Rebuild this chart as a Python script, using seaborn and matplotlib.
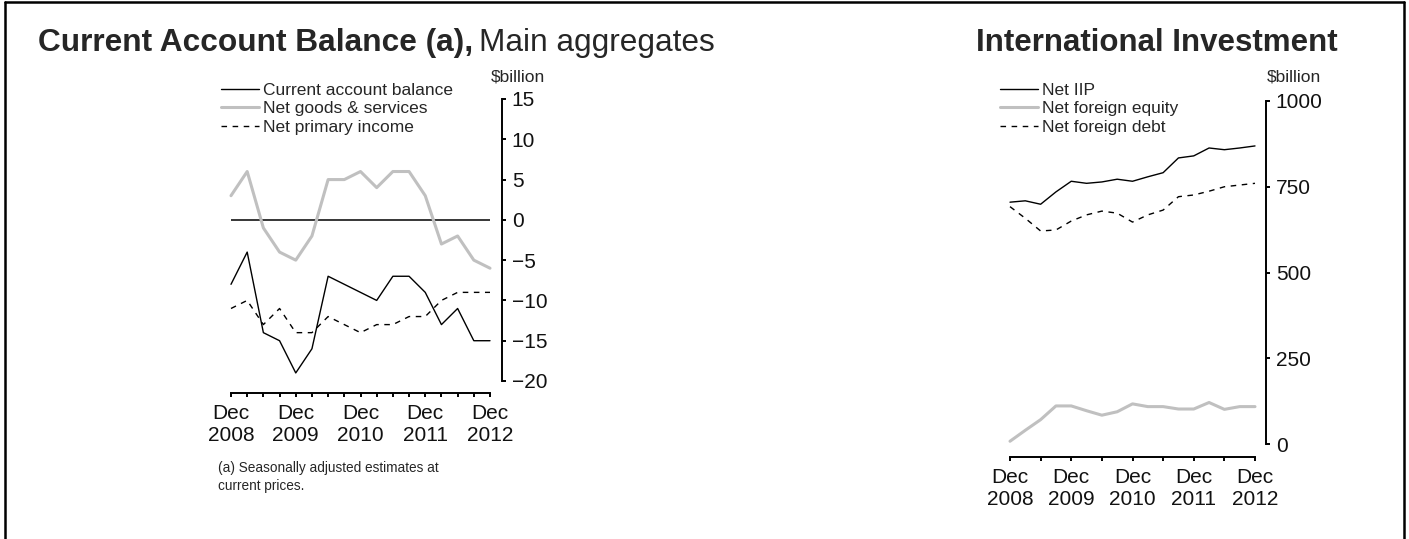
import matplotlib
matplotlib.use("Agg")
import matplotlib.pyplot as plt
import seaborn as sns
import pandas as pd
from matplotlib.lines import Line2D

# ---------------- data ----------------
quarters = ["Dec 2008", "Mar 2009", "Jun 2009", "Sep 2009", "Dec 2009", "Mar 2010",
            "Jun 2010", "Sep 2010", "Dec 2010", "Mar 2011", "Jun 2011", "Sep 2011",
            "Dec 2011", "Mar 2012", "Jun 2012", "Sep 2012", "Dec 2012"]

current_account = [-8, -4, -14, -15, -19, -16, -7, -8, -9, -10, -7, -7, -9, -13, -11, -15, -15]
net_goods_services = [3, 6, -1, -4, -5, -2, 5, 5, 6, 4, 6, 6, 3, -3, -2, -5, -6]
net_primary_income = [-11, -10, -13, -11, -14, -14, -12, -13, -14, -13, -13, -12, -12, -10, -9, -9, -9]

net_iip = [705, 709, 699, 735, 766, 760, 764, 772, 766, 779, 791, 834, 840, 863, 858, 863, 869]
net_foreign_equity = [8, 40, 71, 111, 111, 97, 84, 94, 117, 109, 109, 102, 102, 121, 101, 109, 109]
net_foreign_debt = [692, 658, 621, 624, 650, 668, 679, 673, 647, 668, 682, 721, 726, 737, 750, 755, 760]

left_yticks = [15, 10, 5, 0, -5, -10, -15, -20]
right_yticks = [0, 250, 500, 750, 1000]

# ---------------- style ----------------
sns.set_style("white")
plt.rcParams['font.family'] = ['Liberation Sans', 'DejaVu Sans']

W, H = 1409, 539
fig = plt.figure(figsize=(W / 100, H / 100), dpi=100)

BLACK = "#000000"
GREY = "#c0c0c0"
DASH = (0, (4, 4))

df = pd.DataFrame({
    "q": range(len(quarters)),
    "cab": current_account,
    "goods": net_goods_services,
    "prim": net_primary_income,
    "iip": net_iip,
    "equity": net_foreign_equity,
    "debt": net_foreign_debt,
})

def px_axes(x0, x1, ytop, ybot):
    return fig.add_axes([x0 / W, 1 - ybot / H, (x1 - x0) / W, (ybot - ytop) / H])

def style_axes(ax, right_off_px, bottom_off_px):
    for s in ["left", "top"]:
        ax.spines[s].set_visible(False)
    for s in ["right", "bottom"]:
        ax.spines[s].set_visible(True)
        ax.spines[s].set_linewidth(1.4)
        ax.spines[s].set_color(BLACK)
    ax.spines["right"].set_position(("outward", right_off_px * 0.72))
    ax.spines["bottom"].set_position(("outward", bottom_off_px * 0.72))
    ax.yaxis.tick_right()
    ax.yaxis.set_label_position("right")
    ax.tick_params(axis="both", direction="out", length=3, width=1.4, colors=BLACK,
                   labelsize=15, labelcolor="#111111",
                   bottom=True, top=False, left=False, right=True)
    ax.tick_params(axis="y", pad=4)
    ax.tick_params(axis="x", pad=5)
    ax.set_xlabel("")
    ax.set_ylabel("")
    ax.patch.set_alpha(0)
    ax.grid(False)

LEG = dict(loc="upper left", bbox_transform=fig.transFigure, frameon=False, borderpad=0,
           borderaxespad=0, handlelength=2.2, handletextpad=0.2, labelspacing=0.18,
           fontsize=12.5)

# ---------------- left chart ----------------
ax1 = px_axes(231, 490, 99, 381)
ax1.axhline(0, color=BLACK, lw=1.1, zorder=1)
sns.lineplot(data=df, x="q", y="cab", ax=ax1, color=BLACK, lw=1.0,
             label="Current account balance", clip_on=False, zorder=4)
sns.lineplot(data=df, x="q", y="goods", ax=ax1, color=GREY, lw=2.2,
             label="Net goods & services", clip_on=False, zorder=3)
sns.lineplot(data=df, x="q", y="prim", ax=ax1, color=BLACK, lw=1.0, linestyle=DASH,
             label="Net primary income", clip_on=False, zorder=4)
ax1.set_xlim(0, len(quarters) - 1)
ax1.set_ylim(-20, 15)
ax1.set_yticks(left_yticks)
ax1.set_xticks(list(range(len(quarters))))
ax1.set_xticklabels([q.replace(" ", "\n") if q.startswith("Dec") else "" for q in quarters],
                    linespacing=0.95)
style_axes(ax1, 12, 12)
h, l = ax1.get_legend_handles_labels()
ax1.legend(h, l, bbox_to_anchor=(221 / W, 1 - 83 / H), **LEG)

fig.text(491 / W, 1 - 77 / H, "$billion", fontsize=12.5, va="center", ha="left")

fig.text(218 / W, 1 - 461 / H, "(a) Seasonally adjusted estimates at\ncurrent prices.",
         fontsize=9.8, va="top", ha="left", linespacing=1.4)

# ---------------- right chart ----------------
ax2 = px_axes(1010, 1255, 101, 444)
sns.lineplot(data=df, x="q", y="iip", ax=ax2, color=BLACK, lw=1.0,
             label="Net IIP", clip_on=False, zorder=4)
sns.lineplot(data=df, x="q", y="equity", ax=ax2, color=GREY, lw=2.2,
             label="Net foreign equity", clip_on=False, zorder=3)
sns.lineplot(data=df, x="q", y="debt", ax=ax2, color=BLACK, lw=1.0, linestyle=DASH,
             label="Net foreign debt", clip_on=False, zorder=4)
ax2.set_xlim(0, len(quarters) - 1)
ax2.set_ylim(0, 1000)
ax2.set_yticks(right_yticks)
semi = list(range(0, len(quarters), 2))
ax2.set_xticks(semi)
ax2.set_xticklabels([quarters[i].replace(" ", "\n") if quarters[i].startswith("Dec") else ""
                     for i in semi], linespacing=0.95)
style_axes(ax2, 11, 13)
h, l = ax2.get_legend_handles_labels()
ax2.legend(h, l, bbox_to_anchor=(1000 / W, 1 - 83 / H), **LEG)

fig.text(1267 / W, 1 - 77 / H, "$billion", fontsize=12.5, va="center", ha="left")

# ---------------- titles ----------------
renderer = fig.canvas.get_renderer()
t1 = fig.text(38 / W, 1 - 51 / H, "Current Account Balance (a),", fontsize=22.8,
              fontweight="bold", va="baseline", ha="left")
bb = t1.get_window_extent(renderer=renderer)
fig.text((bb.x1 + 6) / W, 1 - 51 / H, "Main aggregates", fontsize=22.8,
         fontweight="normal", va="baseline", ha="left")
fig.text(976 / W, 1 - 51 / H, "International Investment", fontsize=22.5,
         fontweight="bold", va="baseline", ha="left")

# ---------------- border ----------------
lw_b = 1.8
fig.add_artist(Line2D([5 / W, 5 / W], [0, 1 - 2 / H], transform=fig.transFigure,
                      color=BLACK, lw=lw_b))
fig.add_artist(Line2D([5 / W, 1404 / W], [1 - 2 / H, 1 - 2 / H], transform=fig.transFigure,
                      color=BLACK, lw=lw_b))
fig.add_artist(Line2D([1404 / W, 1404 / W], [0, 1 - 2 / H], transform=fig.transFigure,
                      color=BLACK, lw=lw_b))

fig.savefig("out.png", dpi=100)
